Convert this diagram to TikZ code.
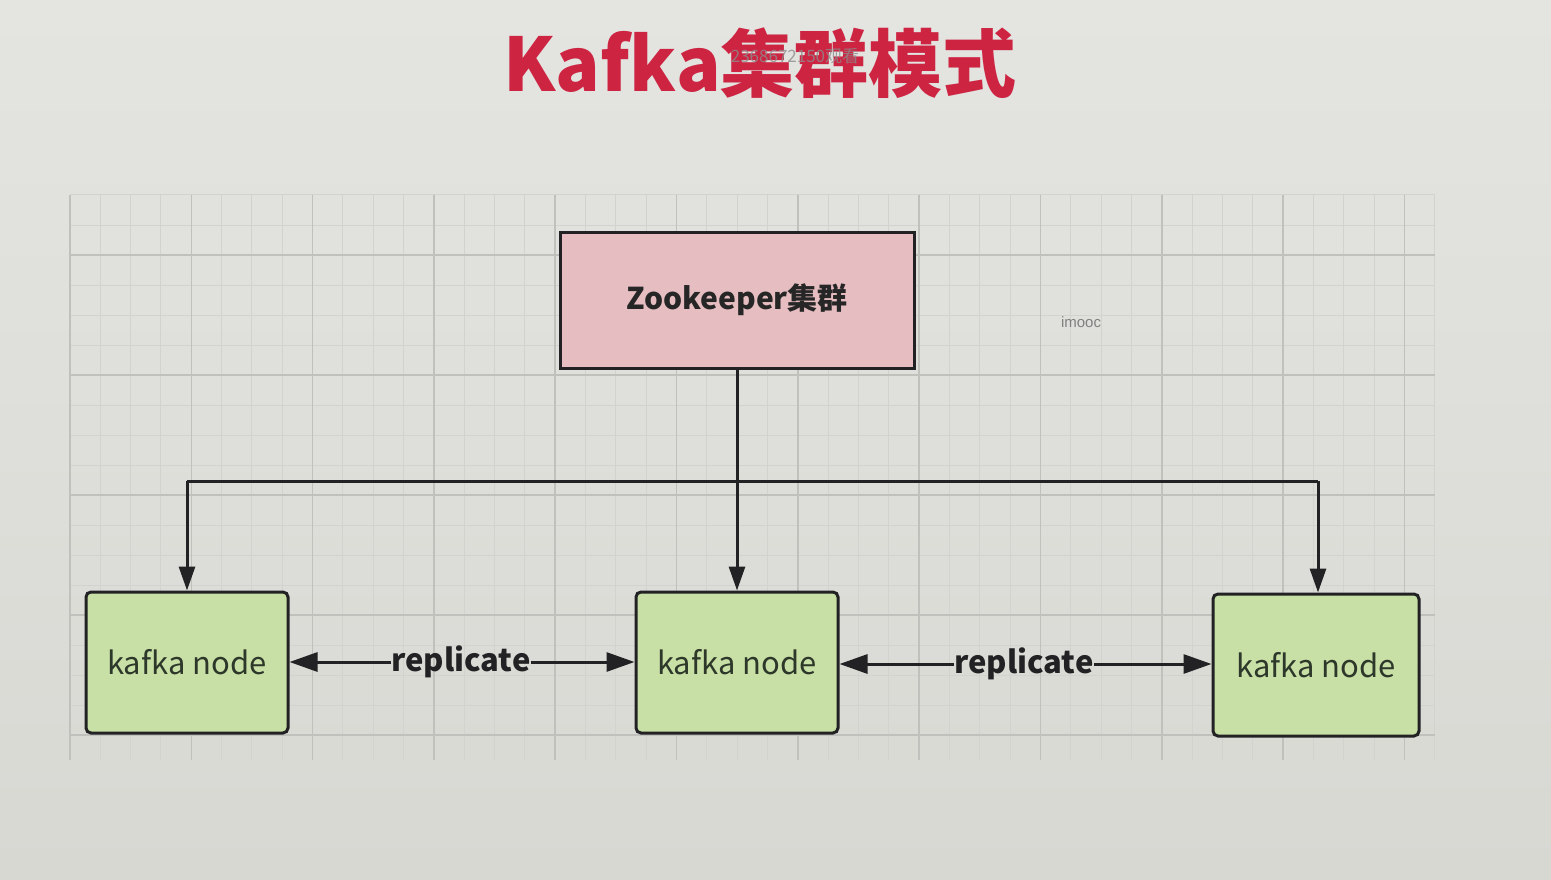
\documentclass[tikz,border=0pt]{standalone}
\usepackage{fontspec}
\usetikzlibrary{arrows.meta}
\newfontfamily\cjk{Noto Sans CJK SC}
\newfontfamily\arialf{Liberation Sans}
\newfontfamily\serifcjk{Noto Sans CJK SC}
\definecolor{bgc}{RGB}{222,222,218}
\definecolor{minorc}{RGB}{210,210,206}
\definecolor{majorc}{RGB}{192,192,189}
\definecolor{pinkc}{RGB}{230,189,193}
\definecolor{greenc}{RGB}{200,224,165}
\definecolor{titlec}{RGB}{205,36,66}
\definecolor{linec}{RGB}{34,34,36}
\definecolor{nodetext}{RGB}{45,55,42}
\tikzset{
  minorline/.style={draw=minorc, line width=1pt},
  majorline/.style={draw=majorc, line width=1.6pt},
  zkbox/.style={draw=linec, line width=3pt, fill=pinkc, minimum width=354pt, minimum height=136pt, inner sep=0pt},
  kbox/.style={draw=linec, line width=3pt, fill=greenc, rounded corners=5pt, minimum width=202pt, minimum height=141pt, inner sep=0pt, text=nodetext, font=\cjk\fontsize{31}{33}\selectfont},
  conn/.style={draw=linec, line width=3pt},
  arr/.style={-{Triangle[length=24pt,width=16pt]}},
  reparr/.style={-{Triangle[length=28pt,width=19pt]}},
  reptext/.style={font=\cjk\bfseries\fontsize{31}{33}\selectfont, text=linec, inner sep=0pt}
}
\begin{document}
\begin{tikzpicture}[x=1pt,y=-1pt]
\useasboundingbox (0,0) rectangle (1551,880);
\shade[top color={rgb,255:red,228;green,228;blue,225}, bottom color={rgb,255:red,216;green,216;blue,211}] (0,0) rectangle (1551,880);
% grid
\foreach \i in {0,...,45} {
  \draw[minorline] ({70+\i*30.33},195) -- ({70+\i*30.33},760);
}
\foreach \j in {0,...,18} {
  \draw[minorline] (70,{195+\j*30}) -- (1435,{195+\j*30});
}
\foreach \i in {0,...,11} {
  \draw[majorline] ({70+\i*121.32},195) -- ({70+\i*121.32},760);
}
\foreach \j in {0,...,4} {
  \draw[majorline] (70,{255+\j*120}) -- (1435,{255+\j*120});
}
% title
\node[font=\cjk\bfseries\fontsize{74}{80}\selectfont, text=titlec, inner sep=0pt] (title) at (760,63) {Kafka集群模式};
\node[font=\serifcjk\fontsize{17}{19}\selectfont, text=black!45, opacity=0.8, inner sep=0pt] (wm) at (795,56) {2368672150观看};
% nodes
\node[zkbox, font=\cjk\bfseries\fontsize{30}{33}\selectfont, text=black!85] (zk) at (737,300) {Zookeeper集群};
\node[kbox] (k1) at (187,662.5) {kafka node};
\node[kbox] (k2) at (737,662.5) {kafka node};
\node[kbox, minimum width=206pt, minimum height=142pt] (k3) at (1316,665) {kafka node};
\node[font=\arialf\fontsize{15}{17}\selectfont, text=black!50, inner sep=0pt] (imooc) at (1081,322) {imooc};
% tree connectors
\coordinate (jl) at (187,481);
\coordinate (jm) at (737,481);
\coordinate (jr) at (1318,481);
\draw[conn] (zk.south) -- (jm);
\draw[conn] (jl) -- (jr);
\draw[conn, arr] (jl) -- (k1.north);
\draw[conn, arr] (jm) -- (k2.north);
\draw[conn, arr] (jr) -- (jr |- k3.north);
% replicate
\node[reptext] (r1) at (461,662) {replicate};
\node[reptext] (r2) at (1024,664) {replicate};
\draw[conn, reparr] (r1.west) -- (k1.east |- r1.west);
\draw[conn, reparr] (r1.east) -- (k2.west |- r1.east);
\draw[conn, reparr] (r2.west) -- (k2.east |- r2.west);
\draw[conn, reparr] (r2.east) -- (k3.west |- r2.east);
\end{tikzpicture}
\end{document}
